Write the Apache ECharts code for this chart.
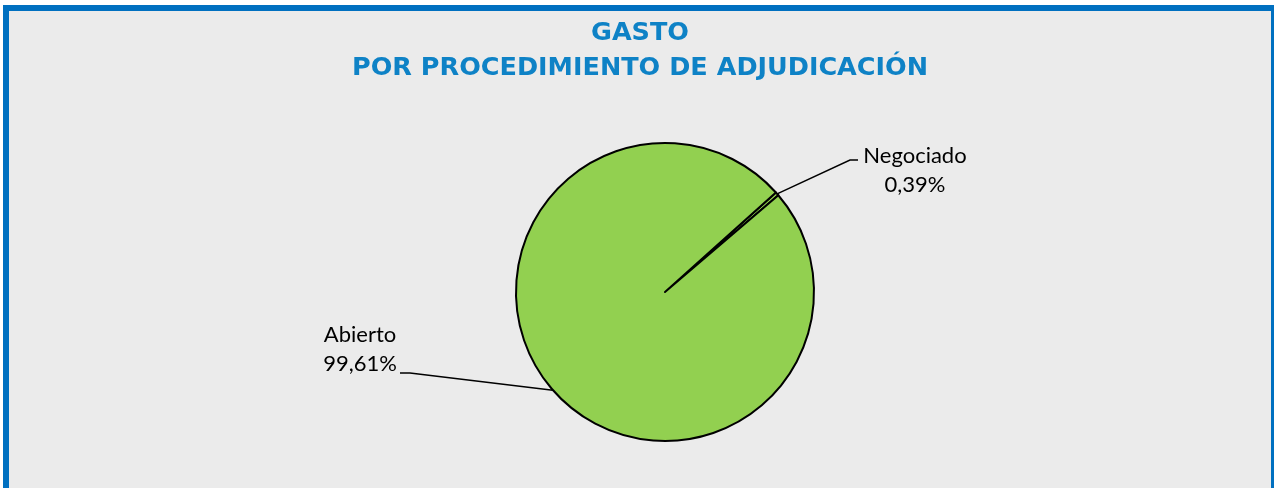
<!DOCTYPE html>
<html>
<head>
<meta charset="utf-8">
<script src="https://cdn.jsdelivr.net/npm/echarts@6/dist/echarts.min.js"></script>
<style>
  html, body { margin: 0; padding: 0; background: #ffffff; width: 1274px; height: 488px; overflow: hidden; }
  #frame { position: absolute; left: 3px; top: 5px; width: 1262px; height: 490px;
           border-left: 6px solid #0070C0; border-top: 6px solid #0070C0; border-right: 3px solid #0070C0;
           background: #EBEBEB; }
  #chart { position: absolute; left: 0; top: 0; width: 1262px; height: 477px; }
</style>
</head>
<body>
<div id="frame"><div id="chart"></div></div>
<script>
const titleLines = ['GASTO', 'POR PROCEDIMIENTO DE ADJUDICACIÓN'];
const categories = ['Negociado', 'Abierto'];
const values = [0.39, 99.61];
const colors = ['#92D050', '#92D050'];

const chart = echarts.init(document.getElementById('chart'), null, { renderer: 'canvas' });
const fmt = v => v.toFixed(2).replace('.', ',') + '%';

chart.setOption({
  backgroundColor: 'transparent',
  title: {
    text: titleLines.join('\n'),
    left: 'center',
    top: 0,
    textStyle: { fontFamily: 'DejaVu Sans', fontWeight: 'bold', fontSize: 25.5, color: '#0E82C6', lineHeight: 35 }
  },
  series: [{
    type: 'pie',
    center: [656, 281],
    radius: 149,
    startAngle: 41.9,
    clockwise: true,
    avoidLabelOverlap: false,
    data: categories.map((c, i) => ({ name: c, value: values[i], itemStyle: { color: colors[i] } })),
    itemStyle: { borderColor: '#000000', borderWidth: 2 },
    emphasis: { disabled: true },
    label: {
      show: true,
      position: 'outside',
      formatter: p => p.name + '\n' + fmt(p.value),
      fontFamily: 'Lato',
      fontSize: 22,
      lineHeight: 29,
      color: '#000000',
      align: 'center'
    },
    labelLine: { show: true, length: 30, length2: 20, lineStyle: { color: '#000000', width: 1.5 } },
    labelLayout: function (p) {
      const start = p.labelLinePoints[0];
      if (p.dataIndex === 0) {
        return {
          x: 906, y: 159, align: 'center', verticalAlign: 'middle',
          labelLinePoints: [start, [841, 149], [849, 149]]
        };
      }
      return {
        x: 351, y: 338, align: 'center', verticalAlign: 'middle',
        labelLinePoints: [start, [401, 362], [391, 362]]
      };
    }
  }]
});
</script>
</body>
</html>
